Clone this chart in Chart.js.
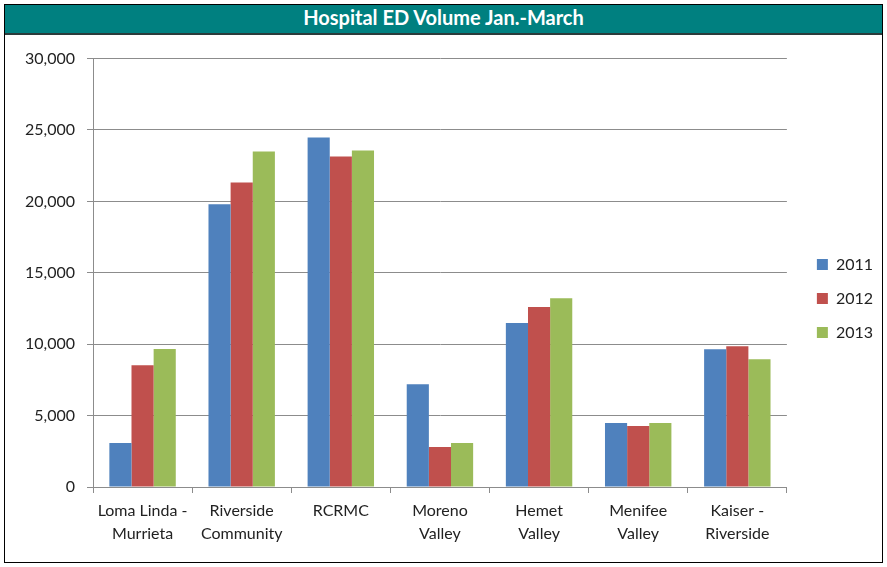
<!DOCTYPE html>
<html>
<head>
<meta charset="utf-8">
<script src="https://cdn.jsdelivr.net/npm/chart.js@4"></script>
<style>
  body { margin: 0; background: #fff; }
  #frame {
    position: absolute; left: 4px; top: 4px;
    width: 877px; height: 557px;
    border: 1px solid #000;
    background: #fff;
  }
  #title {
    height: 28px; line-height: 28px;
    background: #008080;
    border-bottom: 2px solid #2b3b3b;
    color: #fff; text-align: center;
    font: bold 20px Lato, "Noto Sans", sans-serif;
  }
  #wrap { position: relative; width: 877px; height: 527px; }
</style>
</head>
<body>
<div id="frame">
  <div id="title">Hospital ED Volume Jan.-March</div>
  <div id="wrap"><canvas id="chart"></canvas></div>
</div>
<script>
const hospitals = [
  ["Loma Linda -", "Murrieta"],
  ["Riverside", "Community"],
  "RCRMC",
  ["Moreno", "Valley"],
  ["Hemet", "Valley"],
  ["Menifee", "Valley"],
  ["Kaiser -", "Riverside"]
];
const years = ["2011", "2012", "2013"];
const volume2011 = [3080, 19800, 24480, 7200, 11490, 4480, 9650];
const volume2012 = [8530, 21330, 23150, 2800, 12600, 4270, 9860];
const volume2013 = [9660, 23500, 23570, 3080, 13220, 4480, 8950];
const colors = ["#4F81BD", "#C0504D", "#9BBB59"];

const font = { family: "Lato, 'Noto Sans', sans-serif", size: 16, lineHeight: 1.45 };

// legend sits centred on the whole canvas height, a bit away from the plot
const legendPlace = {
  id: 'legendPlace',
  afterLayout(chart) {
    const lg = chart.legend;
    lg.top = 0;
    lg.bottom = chart.height;
    lg.left += 12;
    lg.right += 12;
  }
};

new Chart(document.getElementById('chart'), {
  type: 'bar',
  data: {
    labels: hospitals,
    datasets: [volume2011, volume2012, volume2013].map((values, i) => ({
      label: years[i],
      data: values,
      backgroundColor: colors[i],
      borderWidth: 0,
      categoryPercentage: 0.67,
      barPercentage: 1
    }))
  },
  plugins: [legendPlace],
  options: {
    responsive: true,
    maintainAspectRatio: false,
    animation: false,
    layout: { padding: { top: 23, right: 11, bottom: 0, left: 0 } },
    plugins: {
      legend: {
        position: 'right',
        labels: {
          font: { family: font.family, size: 16 },
          color: '#222',
          boxWidth: 11,
          boxHeight: 11,
          padding: 18
        }
      },
      tooltip: { enabled: false }
    },
    scales: {
      x: {
        grid: {
          offset: true,
          drawOnChartArea: false,
          drawTicks: true,
          tickLength: 6,
          color: '#8c8c8c'
        },
        border: { color: '#8c8c8c', width: 1 },
        ticks: { font: font, color: '#222', padding: 6, maxRotation: 0, autoSkip: false },
        afterFit: scale => { scale.height = 75; }
      },
      y: {
        min: 0,
        max: 30000,
        ticks: { stepSize: 5000, font: font, color: '#222', padding: 12 },
        grid: { color: '#8c8c8c', lineWidth: 1, tickLength: 6 },
        border: { color: '#8c8c8c', width: 1 },
        afterFit: scale => { scale.width = 88; }
      }
    }
  }
});
</script>
</body>
</html>
